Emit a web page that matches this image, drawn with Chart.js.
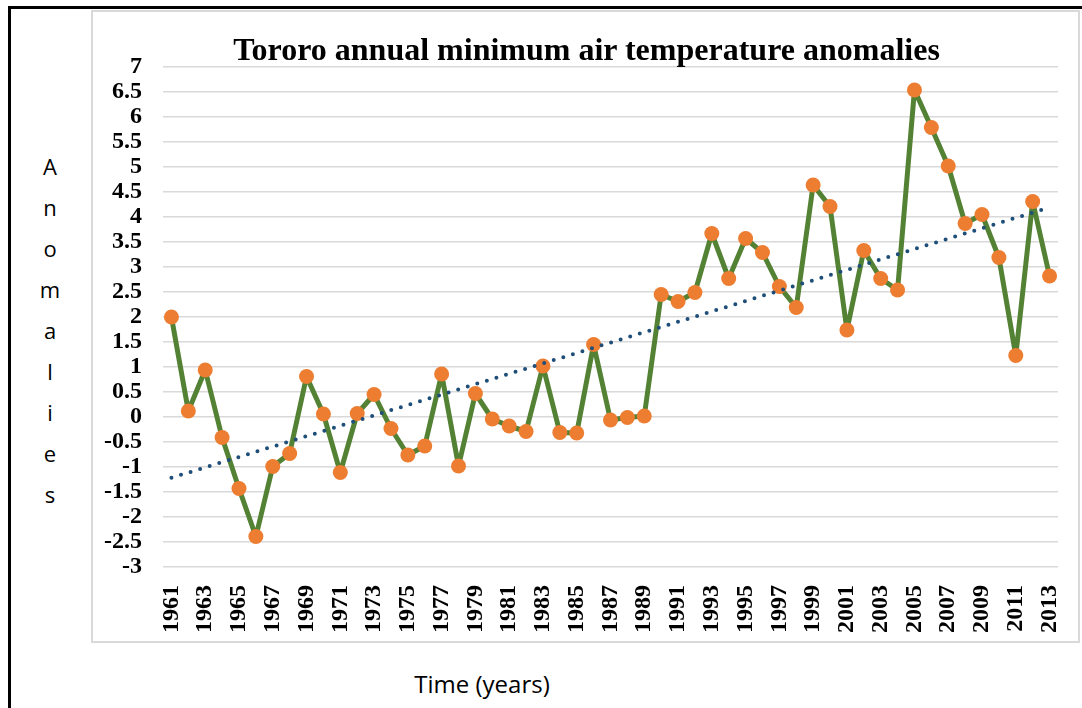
<!DOCTYPE html>
<html>
<head>
<meta charset="utf-8">
<title>Tororo annual minimum air temperature anomalies</title>
<script src="https://cdn.jsdelivr.net/npm/chart.js@4.4.1/dist/chart.umd.min.js"></script>
<style>
  html, body { margin: 0; padding: 0; background: #fff; }
  body { width: 1082px; height: 708px; position: relative; overflow: hidden; }
  #frame {
    position: absolute; left: 8px; top: 6px; width: 1100px; height: 720px;
    border-left: 3px solid #000; border-top: 3px solid #000;
  }
  #box {
    position: absolute; left: 91px; top: 10px; width: 985px; height: 629px;
    border: 2px solid #d9d9d9; background: #fff;
  }
  #chart { position: absolute; left: 91px; top: 10px; }
  #heading {
    position: absolute; left: 91px; top: 32px; width: 991px;
    font: bold 32px "Liberation Serif", "Times New Roman", serif; line-height: 1.1;
    text-align: center; color: #000; white-space: nowrap;
  }
  #yTitle {
    position: absolute; left: 30px; top: 146px; width: 40px;
    font: 22px "Open Sans", sans-serif; line-height: 41px; text-align: center; color: #000;
  }
  #xTitle {
    position: absolute; left: 382px; top: 667px; width: 200px;
    font: 24px "Open Sans", sans-serif; text-align: center; color: #000;
  }
</style>
</head>
<body>
<div id="frame"></div>
<div id="box"></div>
<canvas id="chart" width="989" height="633"></canvas>
<div id="heading">Tororo annual minimum air temperature anomalies</div>
<div id="yTitle">A<br>n<br>o<br>m<br>a<br>l<br>i<br>e<br>s</div>
<div id="xTitle">Time (years)</div>
<script>
const years = [
  "1961","1962","1963","1964","1965","1966","1967","1968","1969","1970",
  "1971","1972","1973","1974","1975","1976","1977","1978","1979","1980",
  "1981","1982","1983","1984","1985","1986","1987","1988","1989","1990",
  "1991","1992","1993","1994","1995","1996","1997","1998","1999","2000",
  "2001","2002","2003","2004","2005","2006","2007","2008","2009","2010",
  "2011","2012","2013"
];

const anomalies = [
  2.0, 0.12, 0.94, -0.41, -1.43, -2.39, -0.99, -0.73, 0.81, 0.06,
  -1.11, 0.07, 0.45, -0.23, -0.76, -0.58, 0.86, -0.98, 0.47, -0.04,
  -0.18, -0.29, 1.02, -0.31, -0.32, 1.45, -0.06, -0.01, 0.02, 2.45,
  2.31, 2.49, 3.67, 2.77, 3.57, 3.29, 2.61, 2.19, 4.64, 4.21,
  1.74, 3.33, 2.77, 2.54, 6.54, 5.79, 5.02, 3.87, 4.05, 3.19,
  1.23, 4.31, 2.82
];

const yMin = -3;
const yMax = 7;
const yStep = 0.5;

// least-squares linear trend over the yearly anomalies
function linearTrend(values) {
  const n = values.length;
  let sx = 0, sy = 0, sxy = 0, sxx = 0;
  values.forEach((v, i) => { sx += i; sy += v; sxy += i * v; sxx += i * i; });
  const slope = (n * sxy - sx * sy) / (n * sxx - sx * sx);
  const icpt = (sy - slope * sx) / n;
  return values.map((v, i) => icpt + slope * i);
}

const serif = '"Liberation Serif", "Times New Roman", serif';

const ctx = document.getElementById("chart").getContext("2d");

new Chart(ctx, {
  type: "line",
  data: {
    labels: years,
    datasets: [
      {
        label: "Linear trend",
        data: linearTrend(anomalies),
        borderColor: "#1f4e79",
        borderWidth: 4,
        borderDash: [0, 10],
        borderCapStyle: "round",
        pointRadius: 0,
        fill: false,
        tension: 0
      },
      {
        label: "Anomaly",
        data: anomalies,
        borderColor: "#548235",
        borderWidth: 5,
        borderJoinStyle: "round",
        pointRadius: 7.5,
        pointBackgroundColor: "#ed7d31",
        pointBorderColor: "#ed7d31",
        pointBorderWidth: 0,
        fill: false,
        tension: 0
      }
    ]
  },
  options: {
    responsive: false,
    animation: false,
    devicePixelRatio: 1,
    layout: { padding: { left: 0, right: 22, top: 57, bottom: 0 } },
    plugins: {
      legend: { display: false },
      tooltip: { enabled: false },
      title: { display: false }
    },
    scales: {
      x: {
        offset: true,
        afterFit(scale) {
          scale.height = 76;
          scale.paddingLeft = 0;
          scale.paddingRight = 0;
        },
        grid: { display: false, drawTicks: false },
        border: { display: false },
        ticks: {
          autoSkip: false,
          minRotation: 90,
          maxRotation: 90,
          padding: 18,
          color: "#000",
          font: { family: serif, size: 24, weight: "bold" },
          callback: (v, i) => (i % 2 === 0 ? years[i] : "")
        }
      },
      y: {
        min: yMin,
        max: yMax,
        afterFit(scale) {
          scale.width = 72;
          scale.paddingTop = 0;
          scale.paddingBottom = 0;
        },
        grid: { color: "#d9d9d9", lineWidth: 1.5, drawTicks: false },
        border: { display: false },
        ticks: {
          stepSize: yStep,
          autoSkip: false,
          padding: 21,
          color: "#000",
          font: { family: serif, size: 24, weight: "bold" },
          callback: v => String(v)
        }
      }
    }
  }
});
</script>
</body>
</html>
